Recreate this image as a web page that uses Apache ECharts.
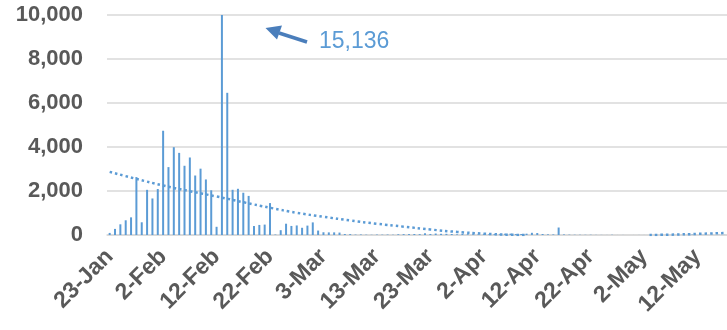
<!DOCTYPE html>
<html>
<head>
<meta charset="utf-8">
<script src="https://cdn.jsdelivr.net/npm/echarts@6/dist/echarts.min.js"></script>
<style>
html,body{margin:0;padding:0;background:#fff;}
#chart{width:727px;height:330px;}
</style>
</head>
<body>
<div id="chart"></div>
<script>
// ---- data ----
const startDate = [2020, 0, 23];
const dayCount = 116;
const monthNames = ['Jan','Feb','Mar','Apr','May','Jun'];
const tickLabels = ['23-Jan','2-Feb','12-Feb','22-Feb','3-Mar','13-Mar','23-Mar','2-Apr','12-Apr','22-Apr','2-May','12-May'];
const dailyCases = [
  95, 277, 486, 669, 802, 2632, 578, 2054, 1661, 2089,
  4739, 3086, 3991, 3733, 3147, 3523, 2704, 3015, 2525, 2032,
  373, 15136, 6463, 2055, 2100, 1921, 1777, 408, 458, 473,
  1451, 21, 219, 513, 412, 434, 328, 427, 573, 202,
  125, 119, 120, 110, 44, 40, 19, 24, 15, 11,
  20, 16, 21, 13, 34, 39, 41, 46, 39, 78,
  47, 67, 55, 54, 45, 31, 48, 36, 35, 31,
  29, 30, 39, 32, 62, 63, 42, 46, 60, 100,
  89, 46, 30, 27, 340, 25, 16, 12, 11, 10,
  12, 6, 5, 3, 11, 2, 3, 1, 2, 3,
  2, 2, 1, 1, 3, 2, 1, 2, 1, 17,
  1, 5, 3, 2, 7, 5
];
// trendline: [day index, value]
const trendFirst = [[0,2870],[5,2550],[10,2250],[15,1990],[20,1750],[25,1490],[30,1240],[35,1010],[40,830],[45,660],[50,510],[55,380],[60,250],[65,140],[70,60],[75,10],[78,0]];
const trendLast = [[101,0],[105,15],[110,50],[115,90]];
const annotationText = '15,136';

// ---- build ----
const categories = [];
for (let i = 0; i < dayCount; i++) {
  const d = new Date(startDate[0], startDate[1], startDate[2] + i);
  categories.push(d.getDate() + '-' + monthNames[d.getMonth()]);
}
const blue = '#5b9bd5';
const font = 'Liberation Sans';
const chart = echarts.init(document.getElementById('chart'), null, {renderer: 'canvas'});
const trendStyle = {color: blue, width: 2.5, type: [2.5, 3]};
chart.setOption({
  animation: false,
  backgroundColor: '#fff',
  grid: {left: 107, right: 0, top: 15, bottom: 95},
  xAxis: {
    type: 'category',
    data: categories,
    boundaryGap: true,
    axisLine: {lineStyle: {color: '#d9d9d9', width: 1.5}},
    axisTick: {interval: 9, length: 6, lineStyle: {color: '#bfbfbf', width: 1.5}},
    axisLabel: {
      interval: 9, rotate: 45, margin: 18,
      fontFamily: font, fontWeight: 'bold', fontSize: 23, color: '#595959',
      formatter: (v, i) => tickLabels[Math.round(i / 10)] || v
    },
    splitLine: {show: false}
  },
  yAxis: {
    type: 'value', min: 0, max: 10000, interval: 2000,
    axisLine: {show: false}, axisTick: {show: false},
    axisLabel: {
      margin: 24, fontFamily: font, fontWeight: 'bold', fontSize: 22, color: '#595959',
      formatter: v => v.toLocaleString('en-US')
    },
    splitLine: {lineStyle: {color: '#d9d9d9', width: 1.5}}
  },
  series: [
    {type: 'bar', data: dailyCases, barWidth: 2, clip: true, itemStyle: {color: blue}},
    {type: 'line', data: trendFirst, smooth: true, symbol: 'none', clip: true, lineStyle: trendStyle, z: 3},
    {type: 'line', data: trendLast, smooth: true, symbol: 'none', clip: true, lineStyle: trendStyle, z: 3}
  ],
  graphic: [
    {type: 'line', shape: {x1: 307, y1: 42, x2: 279, y2: 33}, style: {stroke: '#4a7ebb', lineWidth: 3.5}},
    {type: 'polygon', shape: {points: [[265.5, 28], [282, 25.5], [277, 39.5]]}, style: {fill: '#4a7ebb'}},
    {type: 'text', x: 319, y: 42, style: {text: annotationText, font: '23px "Liberation Sans"', fill: blue, verticalAlign: 'middle', align: 'left'}}
  ]
});
</script>
</body>
</html>
